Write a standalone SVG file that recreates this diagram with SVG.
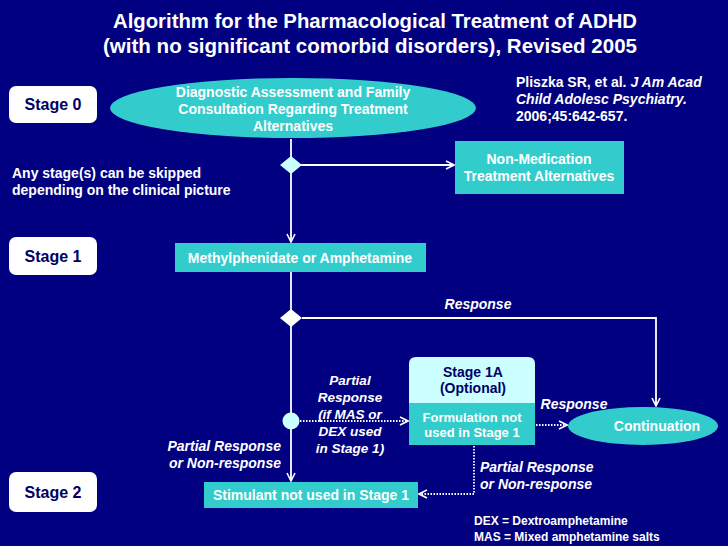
<svg xmlns="http://www.w3.org/2000/svg" width="728" height="546" viewBox="0 0 728 546">
<defs>
<marker id="arr" viewBox="0 0 10 10" refX="9" refY="5" markerWidth="10" markerHeight="10" markerUnits="userSpaceOnUse" orient="auto">
<polyline points="1,1 9,5 1,9" fill="none" stroke="#ffffff" stroke-width="1.6"/>
</marker>
</defs>
<style>
text{font-family:"Liberation Sans",Arial,sans-serif;font-weight:bold;}
.t{fill:#ffffff;font-size:20px;}
.w{fill:#ffffff;font-size:14px;}
.i{fill:#ffffff;font-size:14px;font-style:italic;}
.ic{fill:#ffffff;font-size:13.5px;font-style:italic;}
.f{fill:#ffffff;font-size:13px;}
.lg{fill:#ffffff;font-size:12px;}
.n{fill:#000066;font-size:16px;}
.n2{fill:#000066;font-size:14px;}
.stage{fill:#ffffff;}
.teal{fill:#33cccc;}
.lc{fill:#ccffff;}
.ln{stroke:#ffffff;stroke-width:1.8;fill:none;}
.dt{stroke:#ffffff;stroke-width:1.8;fill:none;stroke-dasharray:1.5 1.5;}
</style>
<rect width="728" height="546" fill="#000080"/>
<g id="title">
<text class="t" x="113" y="28" textLength="524" lengthAdjust="spacingAndGlyphs">Algorithm for the Pharmacological Treatment of ADHD</text>
<text class="t" x="103" y="53" textLength="534" lengthAdjust="spacingAndGlyphs">(with no significant comorbid disorders), Revised 2005</text>
</g>
<g id="citation">
<text class="w" x="516" y="87">Pliszka SR, et al. <tspan font-style="italic">J Am Acad</tspan></text>
<text class="w" x="516" y="104" font-style="italic">Child Adolesc Psychiatry.</text>
<text class="w" x="516" y="121">2006;45:642-657.</text>
</g>
<g id="skipnote">
<text class="w" x="12" y="178">Any stage(s) can be skipped</text>
<text class="w" x="12" y="195">depending on the clinical picture</text>
</g>
<g id="legend">
<text class="lg" x="474" y="525">DEX = Dextroamphetamine</text>
<text class="lg" x="474" y="541">MAS = Mixed amphetamine salts</text>
</g>
<g id="connectors">
<line class="ln" x1="291" y1="139" x2="291" y2="158"/>
<line class="ln" x1="300" y1="165" x2="454" y2="165" marker-end="url(#arr)"/>
<line class="ln" x1="291" y1="172" x2="291" y2="242" marker-end="url(#arr)"/>
<line class="ln" x1="291" y1="272" x2="291" y2="310"/>
<polyline class="ln" points="302,318 656,318 656,406" marker-end="url(#arr)"/>
<line class="ln" x1="291" y1="326" x2="291" y2="413"/>
<line class="ln" x1="291" y1="429" x2="291" y2="481" marker-end="url(#arr)"/>
<line class="dt" x1="300" y1="421" x2="408" y2="421" marker-end="url(#arr)"/>
<line class="dt" x1="536" y1="425" x2="567" y2="425" marker-end="url(#arr)"/>
<polyline class="dt" points="474,446 474,494 419,494" marker-end="url(#arr)"/>
<polygon points="291,156 302,165 291,174 280,165" fill="#ccffff"/>
<polygon points="291,309 302,318 291,327 280,318" fill="#ffffff"/>
<circle cx="291" cy="421" r="8.5" fill="#ccffff"/>
<text class="i" x="478" y="309" text-anchor="middle">Response</text>
<text class="i" x="574" y="409" text-anchor="middle">Response</text>
<text class="ic" x="350" y="385" text-anchor="middle">Partial</text>
<text class="ic" x="350" y="402" text-anchor="middle">Response</text>
<text class="ic" x="350" y="419" text-anchor="middle">(if MAS or</text>
<text class="ic" x="350" y="436" text-anchor="middle">DEX used</text>
<text class="ic" x="350" y="453" text-anchor="middle">in Stage 1)</text>
<text class="i" x="281" y="451" text-anchor="end">Partial Response</text>
<text class="i" x="281" y="468" text-anchor="end">or Non-response</text>
<text class="i" x="480" y="472">Partial Response</text>
<text class="i" x="480" y="489">or Non-response</text>
</g>
<g id="stage0">
<rect class="stage" x="9" y="86" width="88" height="37" rx="7"/>
<text class="n" x="53" y="110" text-anchor="middle">Stage 0</text>
</g>
<g id="stage1">
<rect class="stage" x="9" y="237" width="88" height="38" rx="7"/>
<text class="n" x="53" y="262" text-anchor="middle">Stage 1</text>
</g>
<g id="stage2">
<rect class="stage" x="9" y="472" width="88" height="40" rx="7"/>
<text class="n" x="53" y="498" text-anchor="middle">Stage 2</text>
</g>
<g id="diagnostic">
<ellipse class="teal" cx="293" cy="108" rx="183" ry="30"/>
<text class="w" x="293" y="97" text-anchor="middle">Diagnostic Assessment and Family</text>
<text class="w" x="293" y="114" text-anchor="middle">Consultation Regarding Treatment</text>
<text class="w" x="293" y="131" text-anchor="middle">Alternatives</text>
</g>
<g id="nonmed">
<rect class="teal" x="455" y="141" width="169" height="53"/>
<text class="w" x="539" y="164" text-anchor="middle">Non-Medication</text>
<text class="w" x="539" y="181" text-anchor="middle">Treatment Alternatives</text>
</g>
<g id="methyl">
<rect class="teal" x="175" y="243" width="251" height="29"/>
<text class="w" x="300" y="263" text-anchor="middle">Methylphenidate or Amphetamine</text>
</g>
<g id="stage1a">
<path class="lc" d="M409,403 V364 Q409,357 416,357 H528 Q535,357 535,364 V403 Z"/>
<text class="n2" x="473" y="377" text-anchor="middle">Stage 1A</text>
<text class="n2" x="473" y="393" text-anchor="middle">(Optional)</text>
</g>
<g id="formulation">
<rect class="teal" x="409" y="403" width="126" height="42"/>
<text class="f" x="472" y="422" text-anchor="middle">Formulation not</text>
<text class="f" x="472" y="437" text-anchor="middle">used in Stage 1</text>
</g>
<g id="continuation">
<ellipse class="teal" cx="643" cy="426" rx="75" ry="19"/>
<text class="w" x="657" y="431" text-anchor="middle">Continuation</text>
</g>
<g id="stimulant">
<rect class="teal" x="204" y="482" width="214" height="26"/>
<text class="w" x="311" y="500" text-anchor="middle">Stimulant not used in Stage 1</text>
</g>
</svg>
